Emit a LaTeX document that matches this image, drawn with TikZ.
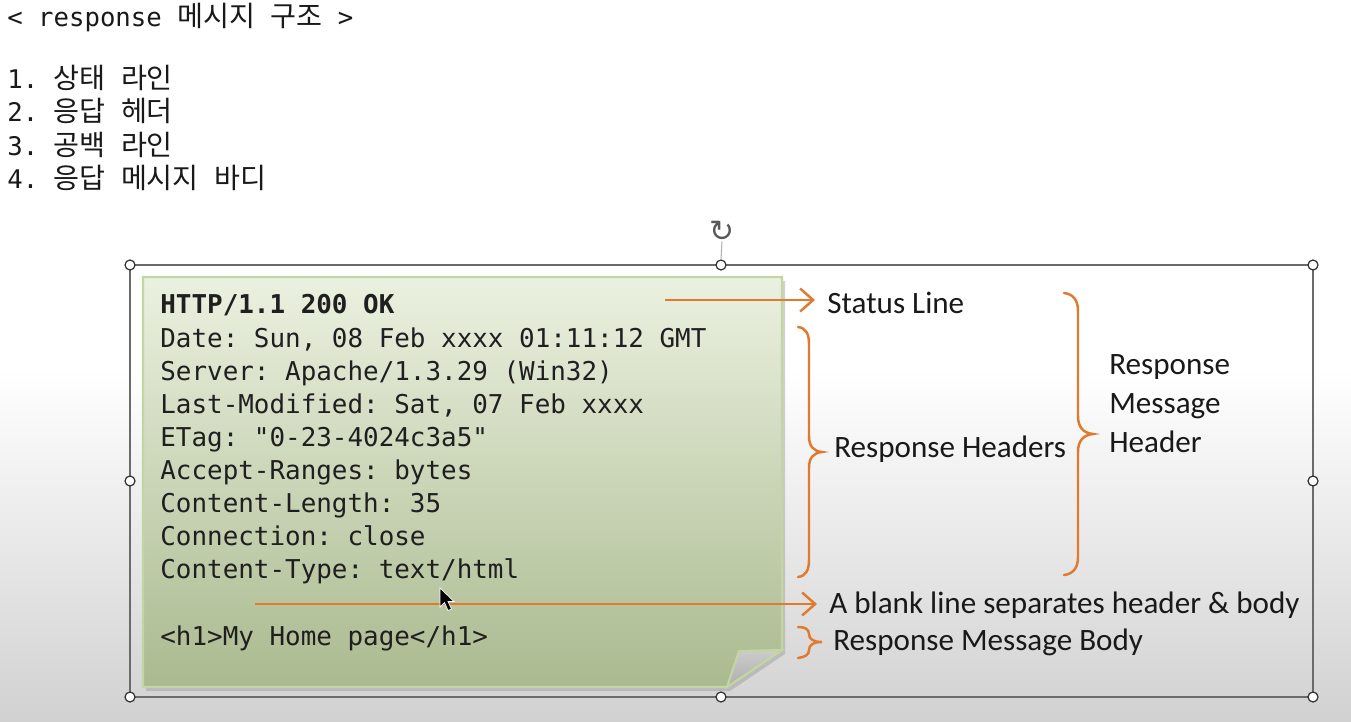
\documentclass[tikz,border=0pt]{standalone}
\usepackage{fontspec}
\setmainfont{Carlito}
\setmonofont{DejaVu Sans Mono}
\newfontfamily\krfont{Noto Sans CJK KR}[Scale=1.1]
\newfontfamily\symfont{DejaVu Sans}
\usetikzlibrary{arrows.meta,positioning}
\definecolor{orng}{HTML}{E07A2E}
\definecolor{notetop}{HTML}{EBF1E0}
\definecolor{notebot}{HTML}{AABA8F}
\definecolor{noteedge}{HTML}{C3D6A2}

\begin{document}
\begin{tikzpicture}[
    x=0.02cm, y=-0.02cm,
    mono/.style={font=\ttfamily\fontsize{14.75}{17}\selectfont, text=black!88, inner sep=0pt, anchor=base west},
    topline/.style={font=\ttfamily\fontsize{14.6}{17}\selectfont, text=black!90, inner sep=0pt, anchor=base west},
    lbl/.style={font=\fontsize{17.7}{20}\selectfont, text=black!90, inner sep=0pt, inner xsep=0.24cm, anchor=base west},
    arrow/.style={-{Straight Barb[length=2.6mm, width=4.6mm]}, draw=orng, line width=1.4pt},
    brc/.style={draw=orng, line width=1.4pt, line cap=round},
    frame/.style={draw=black!58, line width=1.1pt},
    handle/.style={circle, draw=black!80, fill=white, line width=0.7pt, minimum size=0.2cm, inner sep=0pt}
]
\useasboundingbox (0,0) rectangle (1351,722);
% screen background
\fill[white] (0,0) rectangle (1351,722);
\shade[top color=white, bottom color=black!18] (0,370) rectangle (1351,722);

% heading and list
\node[topline] (title) at (7,27) {< response {\krfont 메시지}\ {\krfont 구조} >};
\node[topline] (item1) at (7,89) {1. {\krfont 상태}\ {\krfont 라인}};
\node[topline] (item2) at (7,122) {2. {\krfont 응답}\ {\krfont 헤더}};
\node[topline] (item3) at (7,156) {3. {\krfont 공백}\ {\krfont 라인}};
\node[topline] (item4) at (7,189) {4. {\krfont 응답}\ {\krfont 메시지}\ {\krfont 바디}};

% selection frame
\draw[frame] (130,265) rectangle (1313,697);
\foreach \hx/\hy [count=\k] in {130/265, 721/265, 1313/265, 130/481, 1313/481, 130/697, 721/697, 1313/697}
  \node[handle] (hd\k) at (\hx,\hy) {};
\node[font=\symfont\fontsize{17}{17}\selectfont, text=black!65, inner sep=0pt] (rot) at (722,231) {↻};
\draw[black!30, line width=0.6pt] (rot.south) -- (hd2.north);

% note with folded corner
\fill[black!40, opacity=.45] (146,281) -- (785,281) -- (785,654) -- (730,691) -- (146,691) -- cycle;
\shadedraw[top color=notetop, bottom color=notebot, draw=noteedge, line width=1.2pt]
  (143,277) -- (782,277) -- (782,650) -- (727,687) -- (143,687) -- cycle;
\shadedraw[top color=black!20, bottom color=black!32, draw=noteedge, line width=1.2pt]
  (727,687) -- (739,651) -- (782,650) -- cycle;

% message text
\node[mono, font=\ttfamily\bfseries\fontsize{14.75}{17}\selectfont] (l0) at (160,314) {HTTP/1.1 200 OK};
\foreach \txt [count=\i] in {{Date: Sun, 08 Feb xxxx 01:11:12 GMT}, {Server: Apache/1.3.29 (Win32)},
    {Last-Modified: Sat, 07 Feb xxxx}, {ETag: "0-23-4024c3a5"}, {Accept-Ranges: bytes},
    {Content-Length: 35}, {Connection: close}, {Content-Type: text/html}}
  \node[mono] (l\i) at (160,{314+33.1*\i}) {\txt};
\node[mono] (body) at (160,645) {<h1>My Home page</h1>};

% labels
\node[lbl] (status) at (815,314) {Status Line};
\node[lbl] (rhdr) at (822,457) {Response Headers};
\node[lbl] (rsp1) at (1097,375) {Response};
\node[lbl] (rsp2) at (1097,414) {Message};
\node[lbl] (rsp3) at (1097,452) {Header};
\node[lbl] (blank) at (817,613) {A blank line separates header \& body};
\node[lbl] (rbody) at (821,650) {Response Message Body};

% arrows
\coordinate (st-src) at (665,300);
\coordinate (bl-src) at (255,604);
\draw[arrow] (st-src) -- (st-src -| status.west);
\draw[arrow] (bl-src) -- (bl-src -| blank.west);

% braces
\draw[brc] (798,327) .. controls (806,328) and (809,334) .. (809,344) -- (809,436)
  .. controls (809,446) and (813,451) .. (822,452) .. controls (813,453) and (809,458) .. (809,468)
  -- (809,560) .. controls (809,570) and (806,576) .. (798,577);
\draw[brc] (1064,293) .. controls (1073,294) and (1078,300) .. (1078,311) -- (1078,416)
  .. controls (1078,427) and (1083,433) .. (1093,434) .. controls (1083,435) and (1078,441) .. (1078,452)
  -- (1078,557) .. controls (1078,568) and (1073,574) .. (1064,575);
\draw[brc] (798,627) .. controls (805,627) and (809,629) .. (809,634)
  .. controls (809,639) and (813,642) .. (822,642) .. controls (813,642) and (809,645) .. (809,650)
  .. controls (809,655) and (805,657) .. (798,658);

% mouse pointer
\filldraw[fill=black, draw=white, line width=0.4pt] (440,588) -- (440,607) -- (444.5,602.5) -- (448,610.5)
  -- (451.5,609) -- (448,601.5) -- (454,601.5) -- cycle;
\end{tikzpicture}
\end{document}
